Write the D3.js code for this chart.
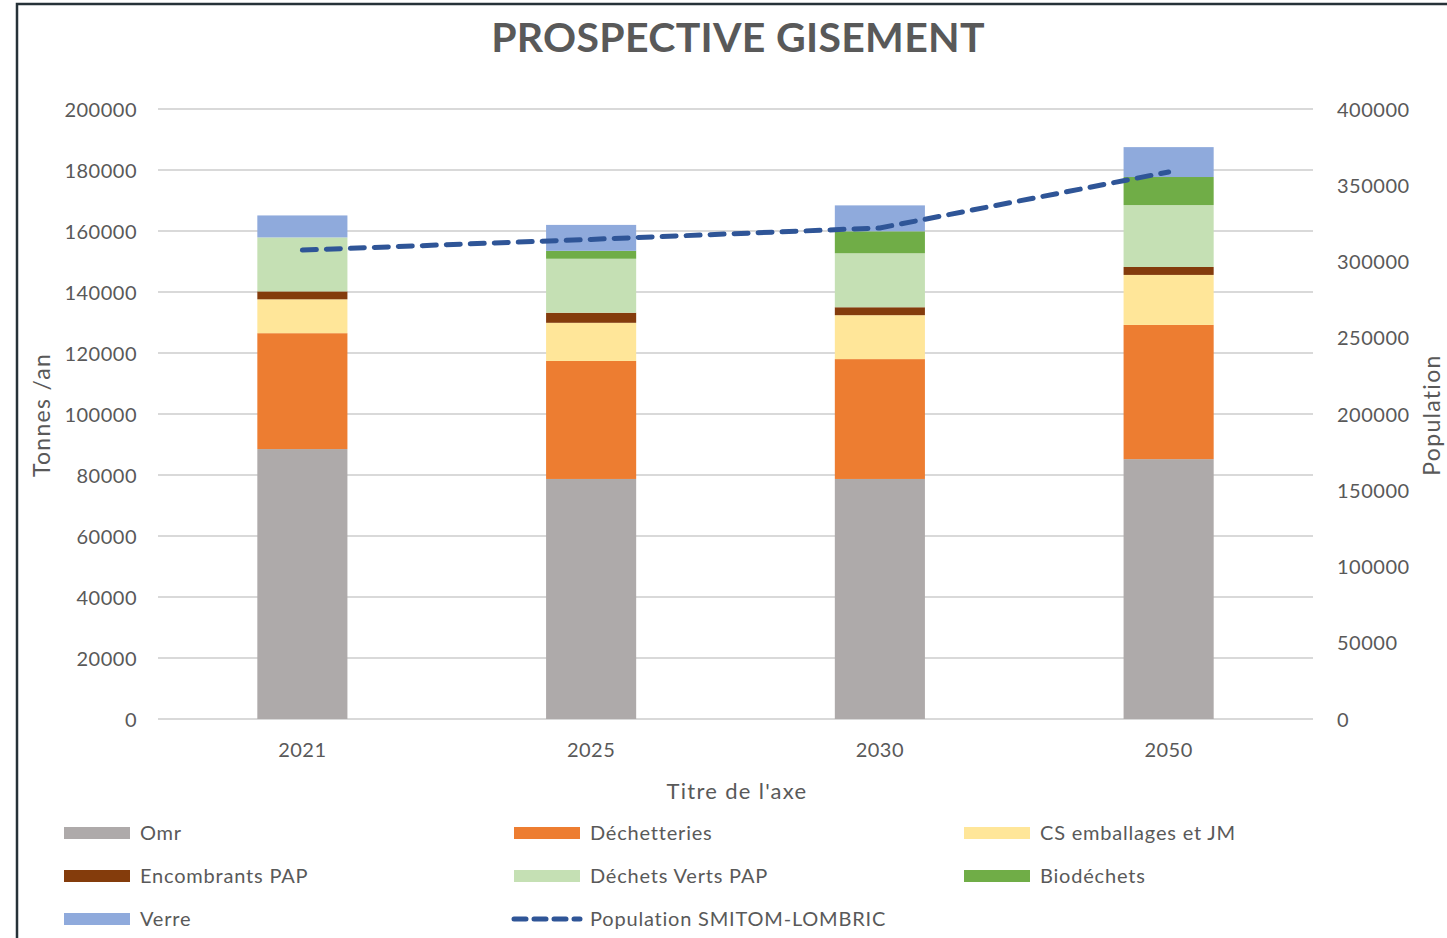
<!DOCTYPE html>
<html>
<head>
<meta charset="utf-8">
<script src="https://cdn.jsdelivr.net/npm/d3@7"></script>
<style>
  body { margin: 0; background: #fff; }
  text { font-family: Lato, "Open Sans", sans-serif; fill: #595959; }
</style>
</head>
<body>
<div id="chart"></div>
<script>
const years = ["2021", "2025", "2030", "2050"];
const seriesNames = ["Omr", "Déchetteries", "CS emballages et JM", "Encombrants PAP", "Déchets Verts PAP", "Biodéchets", "Verre"];
const seriesColors = ["#aeaaaa", "#ed7d31", "#ffe699", "#843c0c", "#c5e0b4", "#70ad47", "#8faadc"];
const omr = [88500, 78700, 78700, 85200];
const dechetteries = [38000, 38700, 39300, 44000];
const csEmballages = [11100, 12500, 14400, 16400];
const encombrants = [2600, 3300, 2600, 2600];
const dechetsVerts = [17700, 17700, 17700, 20300];
const biodechets = [0, 2600, 7200, 9200];
const verre = [7200, 8500, 8500, 9800];
const population = [307500, 314500, 322000, 358700];
const leftTicks = [0, 20000, 40000, 60000, 80000, 100000, 120000, 140000, 160000, 180000, 200000];
const rightTicks = [0, 50000, 100000, 150000, 200000, 250000, 300000, 350000, 400000];

const seriesValues = [omr, dechetteries, csEmballages, encombrants, dechetsVerts, biodechets, verre];
const rows = years.map((yr, i) => {
  const r = { year: yr };
  seriesNames.forEach((n, k) => r[n] = seriesValues[k][i]);
  return r;
});

const W = 1447, H = 938;
const plotL = 158, plotR = 1313, plotT = 109, plotB = 719;

const svg = d3.select("#chart").append("svg")
  .attr("width", W).attr("height", H);

// frame
svg.append("path")
  .attr("d", `M17,${H} L17,4 L${W},4`)
  .attr("fill", "none").attr("stroke", "#263238").attr("stroke-width", 2.5);

const x = d3.scaleBand().domain(years).range([plotL, plotR]).paddingInner(0.688).paddingOuter(0.344);
const y = d3.scaleLinear().domain([0, 200000]).range([plotB, plotT]);
const y2 = d3.scaleLinear().domain([0, 400000]).range([plotB, plotT]);

// gridlines
svg.append("g").selectAll("line").data(leftTicks).join("line")
  .attr("x1", plotL).attr("x2", plotR)
  .attr("y1", d => y(d)).attr("y2", d => y(d))
  .attr("stroke", "#d9d9d9").attr("stroke-width", 2);

// left axis
const ax = svg.append("g").attr("transform", `translate(${plotL - 21},0)`)
  .call(d3.axisLeft(y).tickValues(leftTicks).tickFormat(d3.format("d")).tickSize(0));
ax.select(".domain").remove();
ax.selectAll("text").attr("font-size", 20).attr("letter-spacing", 0.5).attr("dy", "0.35em").attr("x", 0);

// right axis
const ax2 = svg.append("g").attr("transform", `translate(${plotR + 24},0)`)
  .call(d3.axisRight(y2).tickValues(rightTicks).tickFormat(d3.format("d")).tickSize(0));
ax2.select(".domain").remove();
ax2.selectAll("text").attr("font-size", 20).attr("letter-spacing", 0.5).attr("dy", "0.35em").attr("x", 0);

// bars
const stack = d3.stack().keys(seriesNames)(rows);
svg.append("g").selectAll("g").data(stack).join("g")
  .attr("fill", (d, i) => seriesColors[i])
  .selectAll("rect").data(d => d).join("rect")
  .attr("x", d => x(d.data.year))
  .attr("width", x.bandwidth())
  .attr("y", d => y(d[1]))
  .attr("height", d => y(d[0]) - y(d[1]));

// bottom axis labels
const axb = svg.append("g").attr("transform", `translate(0,${plotB + 24})`)
  .call(d3.axisBottom(x).tickSize(0));
axb.select(".domain").remove();
axb.selectAll("text").attr("font-size", 20).attr("letter-spacing", 0.5).attr("dy", "0.71em").attr("y", 0);

// population line
const line = d3.line()
  .x((d, i) => x(years[i]) + x.bandwidth() / 2)
  .y(d => y2(d));
svg.append("path").datum(population)
  .attr("d", line)
  .attr("fill", "none").attr("stroke", "#2f5597").attr("stroke-width", 5)
  .attr("stroke-dasharray", "14 10").attr("stroke-linecap", "round");

// title and axis titles
svg.append("text").attr("x", 738).attr("y", 52).attr("text-anchor", "middle")
  .attr("font-size", 41).attr("font-weight", "bold").attr("letter-spacing", 0.3)
  .text("PROSPECTIVE GISEMENT");
svg.append("text").attr("x", 737).attr("y", 799).attr("text-anchor", "middle")
  .attr("font-size", 22).attr("letter-spacing", 1.3).text("Titre de l'axe");
svg.append("text").attr("transform", "translate(50,415) rotate(-90)").attr("text-anchor", "middle")
  .attr("font-size", 23).attr("letter-spacing", 1.3).text("Tonnes /an");
svg.append("text").attr("transform", "translate(1440,415) rotate(-90)").attr("text-anchor", "middle")
  .attr("font-size", 23).attr("letter-spacing", 1.3).text("Population");

// legend
const legendItems = seriesNames.map((n, i) => ({ name: n, color: seriesColors[i], line: false }))
  .concat([{ name: "Population SMITOM-LOMBRIC", color: "#2f5597", line: true }]);
const colX = [64, 514, 964], rowY = [833, 876, 919];
const lg = svg.append("g").selectAll("g").data(legendItems).join("g")
  .attr("transform", (d, i) => `translate(${colX[i % 3]},${rowY[Math.floor(i / 3)]})`);
lg.filter(d => !d.line).append("rect")
  .attr("x", 0).attr("y", -6).attr("width", 66).attr("height", 12).attr("fill", d => d.color);
lg.filter(d => d.line).append("line")
  .attr("x1", 0).attr("x2", 66).attr("y1", 0).attr("y2", 0)
  .attr("stroke", d => d.color).attr("stroke-width", 5)
  .attr("stroke-dasharray", "12 8").attr("stroke-linecap", "round");
lg.append("text").attr("x", 76).attr("y", 0).attr("dy", "0.35em")
  .attr("font-size", 20).attr("letter-spacing", 0.8).text(d => d.name);
</script>
</body>
</html>
